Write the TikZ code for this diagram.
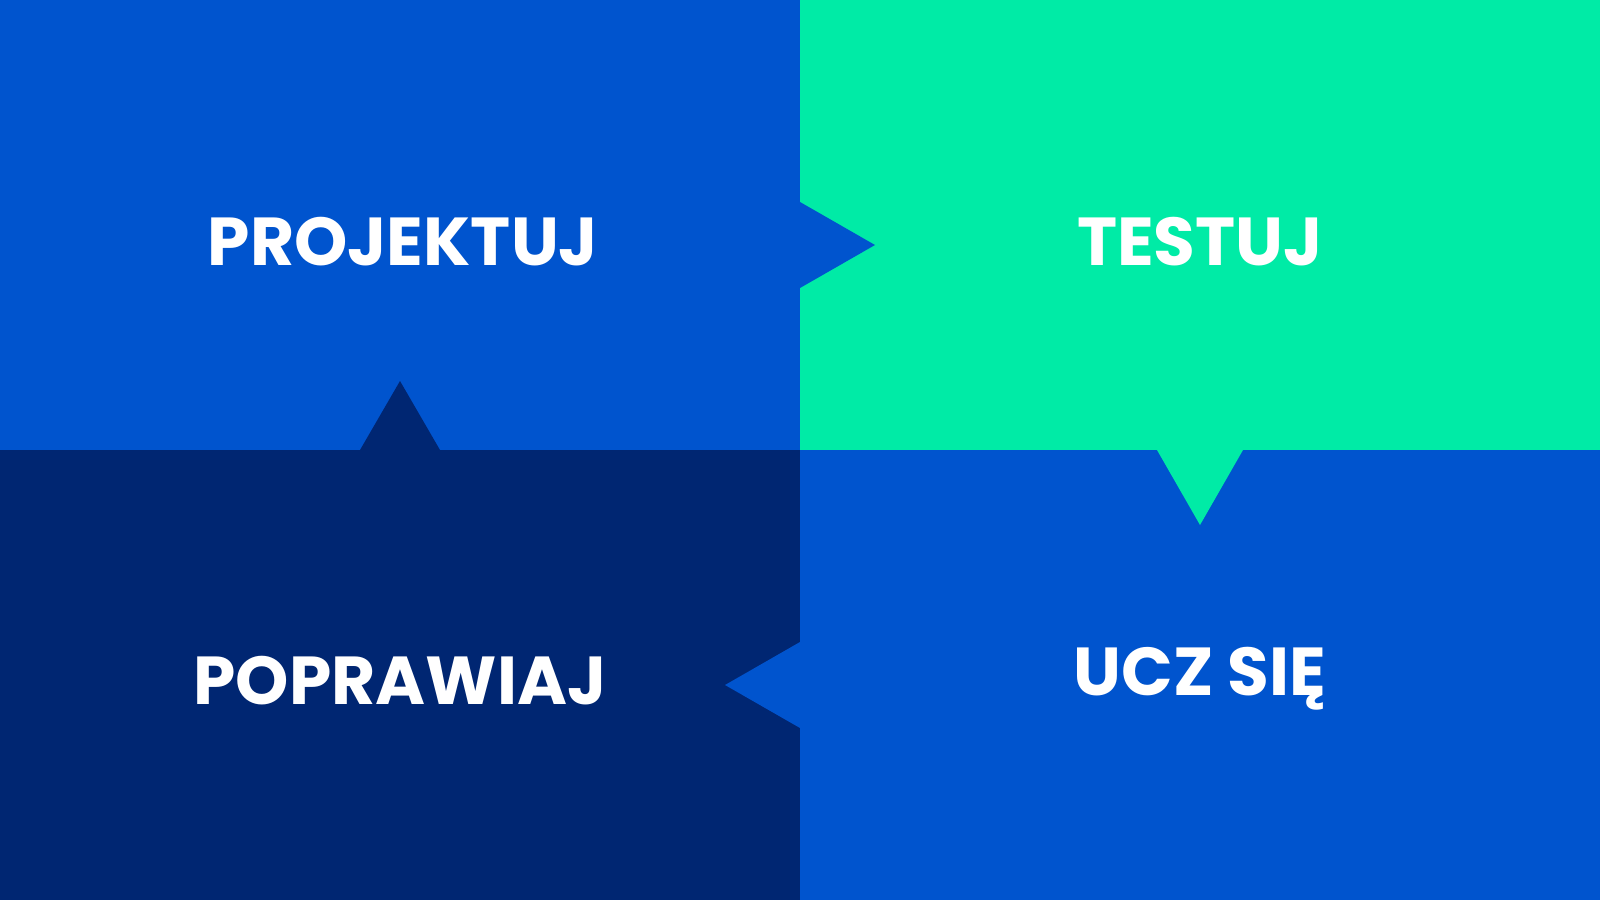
\documentclass[tikz,border=0pt]{standalone}
\usepackage{fontspec}
\setmainfont{Poppins}
\definecolor{blueq}{HTML}{0054CE}
\definecolor{greenq}{HTML}{00EBA6}
\definecolor{navyq}{HTML}{002672}
\tikzset{
  word/.style={anchor=base,text=white,font=\bfseries\fontsize{19.3}{20}\selectfont}
}
\begin{document}
\begin{tikzpicture}
\useasboundingbox (0,0) rectangle (16,9);
\fill[blueq] (0,4.5) rectangle (8,9);
\fill[greenq] (8,4.5) rectangle (16,9);
\fill[navyq] (0,0) rectangle (8,4.5);
\fill[blueq] (8,0) rectangle (16,4.5);
% arrow tips between the quarters
\fill[blueq] (8,6.98) -- (8.75,6.55) -- (8,6.12) -- cycle;
\fill[greenq] (11.57,4.5) -- (12,3.75) -- (12.43,4.5) -- cycle;
\fill[blueq] (8,2.58) -- (7.25,2.15) -- (8,1.72) -- cycle;
\fill[navyq] (3.6,4.5) -- (4,5.19) -- (4.4,4.5) -- cycle;

\node[word] (design) at (4.03,6.35) {PROJEKTUJ};
\node[word] (test) at (12,6.35) {TESTUJ};
\node[word] (learn) at (12,2.05) {UCZ SIĘ};
\node[word] (improve) at (4,1.96) {POPRAWIAJ};
\end{tikzpicture}
\end{document}
